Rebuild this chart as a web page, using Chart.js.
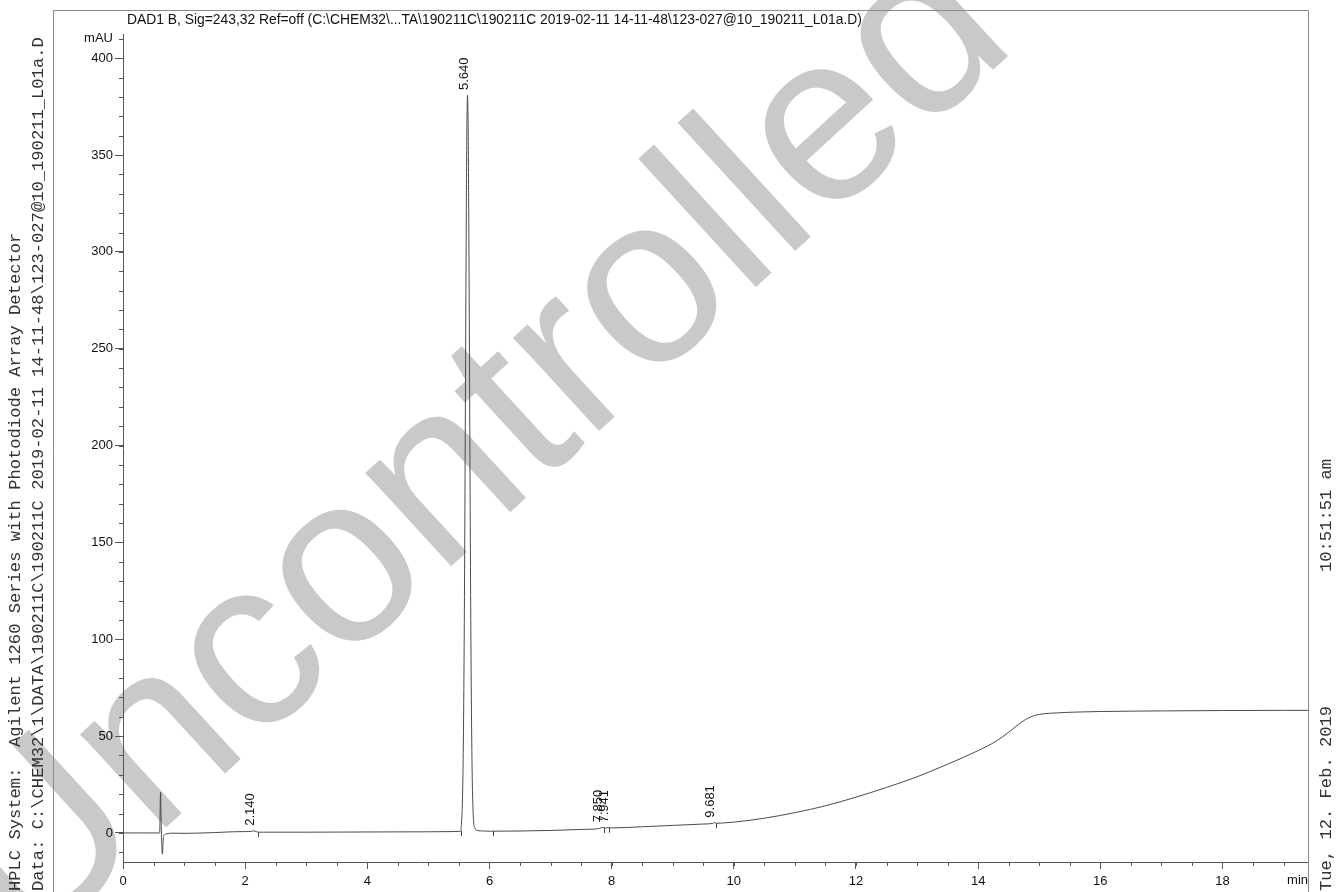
<!DOCTYPE html>
<html>
<head>
  <title>DAD1 B chromatogram</title>
  <script src="https://cdn.jsdelivr.net/npm/chart.js"></script>
  <style>
    body { margin: 0; background: #fff; }
    canvas { display: block; }
  </style>
</head>
<body>
  <canvas id="chart" width="1336" height="892"></canvas>

  <script>
    // retention time (min) and detector signal (mAU)
    const times = [0, 0.3, 0.6, 0.615, 0.625, 0.645, 0.66, 0.68, 0.72, 0.8, 1.0, 1.5, 1.8, 2.0, 2.1, 2.14, 2.18, 2.22, 2.3, 3.0, 4.0, 5.0, 5.4,
      5.5, 5.53, 5.54, 5.55, 5.56, 5.57, 5.58, 5.59, 5.6, 5.61, 5.62, 5.63, 5.64, 5.65, 5.66, 5.67, 5.68, 5.69, 5.7, 5.71, 5.72, 5.73, 5.74, 5.76, 5.8, 5.9,
      6.0, 6.5, 7.0, 7.5, 7.8, 7.85, 7.9, 7.94, 7.98, 8.0, 8.5, 9.0, 9.5, 9.65, 9.68, 9.72, 9.8, 10.0, 10.5, 11.0, 11.5, 12.0, 12.5, 13.0, 13.5,
      14.0, 14.3, 14.5, 14.7, 14.85, 15.0, 15.3, 15.6, 16.0, 17.0, 18.0, 19.0, 19.4];
    const signal = [0, 0, 0, 21, 5, -11, -3, -1, -0.4, -0.1, -0.2, 0.2, 0.6, 0.7, 0.8, 1.1, 0.7, 0.4, 0.4, 0.4, 0.5, 0.6, 0.7,
      0.8, 1.0, 4.5, 10, 21, 41, 74, 122, 184, 253, 318, 364, 381, 366, 322, 260, 192, 130, 80, 46, 24, 12, 6, 2.5, 1.3, 1.0,
      0.9, 1.0, 1.3, 1.8, 2.3, 2.9, 2.5, 2.8, 2.6, 2.6, 3.2, 3.9, 4.6, 4.9, 5.3, 5.0, 5.1, 5.6, 7.6, 10.5, 14, 18.5, 23.5, 29, 35.5,
      42.5, 47.5, 52, 57, 59.8, 61.2, 62, 62.4, 62.7, 63, 63.2, 63.3, 63.3];

    // integrated peaks: retention time label and apex height
    const peakTimes = [2.140, 5.640, 7.850, 7.941, 9.681];
    const peakApex = [1.1, 381, 2.9, 2.8, 5.3];

    // little integration marks on the baseline
    const markTimes = [2.21, 5.53, 6.06, 7.87, 7.95, 9.71];
    const markLevels = [0.4, 1.0, 0.9, 2.6, 2.7, 5.0];

    const xTicks = [0, 2, 4, 6, 8, 10, 12, 14, 16, 18];
    const yTicks = [0, 50, 100, 150, 200, 250, 300, 350, 400, 410];
    const xMinorStep = 0.5;
    const yMinorStep = 10;

    const titleText = "DAD1 B, Sig=243,32 Ref=off (C:\\CHEM32\\...TA\\190211C\\190211C 2019-02-11 14-11-48\\123-027@10_190211_L01a.D)";
    const systemText = "HPLC System:  Agilent 1260 Series with Photodiode Array Detector";
    const dataText = "Data: C:\\CHEM32\\1\\DATA\\190211C\\190211C 2019-02-11 14-11-48\\123-027@10_190211_L01a.D";
    const dateText = "Tue, 12. Feb. 2019";
    const clockText = "10:51:51 am";
    const watermark = "Uncontrolled";

    const sans = '"Liberation Sans", Arial, sans-serif';
    const mono = '"Liberation Mono", "Courier New", monospace';
    const axisColor = '#555';

    // big grey stamp behind everything
    const stamp = {
      id: 'stamp',
      beforeDraw(chart) {
        const ctx = chart.ctx;
        ctx.save();
        ctx.translate(478, 452);
        ctx.rotate(-42.5 * Math.PI / 180);
        ctx.font = '240px ' + sans;
        ctx.fillStyle = '#c9c9c9';
        ctx.textAlign = 'center';
        ctx.textBaseline = 'middle';
        ctx.fillText(watermark, 0, 0);
        ctx.restore();
      }
    };

    // frame, minor ticks, peak labels and the report texts
    const decor = {
      id: 'decor',
      afterDraw(chart) {
        const { ctx, chartArea, scales: { x, y } } = chart;
        ctx.save();

        // outer frame
        ctx.strokeStyle = '#8a8a8a';
        ctx.lineWidth = 1;
        ctx.beginPath();
        ctx.moveTo(53.5, 892);
        ctx.lineTo(53.5, 10.5);
        ctx.lineTo(chartArea.right + 0.5, 10.5);
        ctx.lineTo(chartArea.right + 0.5, 892);
        ctx.stroke();

        // minor ticks
        ctx.strokeStyle = axisColor;
        ctx.beginPath();
        for (let v = xMinorStep; v < x.max; v += xMinorStep) {
          const px = Math.round(x.getPixelForValue(v)) + 0.5;
          ctx.moveTo(px, chartArea.bottom);
          ctx.lineTo(px, chartArea.bottom + 4);
        }
        for (let v = -yMinorStep; v <= y.max; v += yMinorStep) {
          const py = Math.round(y.getPixelForValue(v)) + 0.5;
          ctx.moveTo(chartArea.left, py);
          ctx.lineTo(chartArea.left - 4, py);
        }
        ctx.stroke();

        // integration marks
        ctx.strokeStyle = '#444';
        ctx.beginPath();
        markTimes.forEach((t, i) => {
          const px = Math.round(x.getPixelForValue(t)) + 0.5;
          const py = y.getPixelForValue(markLevels[i]);
          ctx.moveTo(px, py);
          ctx.lineTo(px, py + 5);
        });
        ctx.stroke();

        // peak retention time labels
        ctx.fillStyle = '#111';
        ctx.font = '13px ' + sans;
        ctx.textAlign = 'left';
        ctx.textBaseline = 'alphabetic';
        peakTimes.forEach((t, i) => {
          const px = x.getPixelForValue(t);
          const py = y.getPixelForValue(peakApex[i]) - 5;
          ctx.save();
          ctx.translate(px, py);
          ctx.rotate(-Math.PI / 2);
          ctx.fillText(t.toFixed(3), 0, 0);
          ctx.restore();
        });

        // axis unit on x
        ctx.textAlign = 'right';
        ctx.textBaseline = 'top';
        ctx.fillText('min', chartArea.right, chartArea.bottom + 12);

        // signal title
        ctx.font = '13.85px ' + sans;
        ctx.textAlign = 'left';
        ctx.textBaseline = 'middle';
        ctx.fillText(titleText, 127, 20);

        // side texts of the report
        ctx.fillStyle = '#333';
        ctx.font = '17.15px ' + mono;
        const side = [[systemText, 15, 891], [dataText, 38, 891], [dateText, 1326, 891], [clockText, 1326, 572]];
        side.forEach(([txt, sx, sy]) => {
          ctx.save();
          ctx.translate(sx, sy);
          ctx.rotate(-Math.PI / 2);
          ctx.fillText(txt, 0, 0);
          ctx.restore();
        });

        ctx.restore();
      }
    };

    const points = times.map((t, i) => ({ x: t, y: signal[i] }));

    new Chart(document.getElementById('chart'), {
      type: 'line',
      data: {
        datasets: [{
          data: points,
          borderColor: '#4a4a4a',
          borderWidth: 1,
          pointRadius: 0,
          cubicInterpolationMode: 'monotone'
        }]
      },
      options: {
        responsive: false,
        animation: false,
        layout: { padding: { top: 34, right: 28, left: 0, bottom: 0 } },
        plugins: { legend: { display: false }, tooltip: { enabled: false } },
        scales: {
          x: {
            type: 'linear',
            min: 0,
            max: 19.4,
            afterBuildTicks: s => { s.ticks = xTicks.map(v => ({ value: v })); },
            afterFit: s => { s.height = 30; },
            grid: { drawOnChartArea: false, tickLength: 7, tickColor: axisColor },
            border: { color: axisColor },
            ticks: { autoSkip: false, maxRotation: 0, padding: 5, color: '#111', font: { family: sans, size: 13 } }
          },
          y: {
            min: -15,
            max: 412.5,
            afterBuildTicks: s => { s.ticks = yTicks.map(v => ({ value: v })); },
            afterFit: s => { s.width = 123; },
            grid: {
              drawOnChartArea: false,
              tickLength: 8,
              tickColor: c => (c.tick && c.tick.value === 410 ? 'rgba(0,0,0,0)' : axisColor)
            },
            border: { color: axisColor },
            ticks: {
              autoSkip: false,
              padding: 2,
              color: '#111',
              font: { family: sans, size: 13 },
              callback: v => (v === 410 ? 'mAU' : v)
            }
          }
        }
      },
      plugins: [stamp, decor]
    });
  </script>
</body>
</html>
